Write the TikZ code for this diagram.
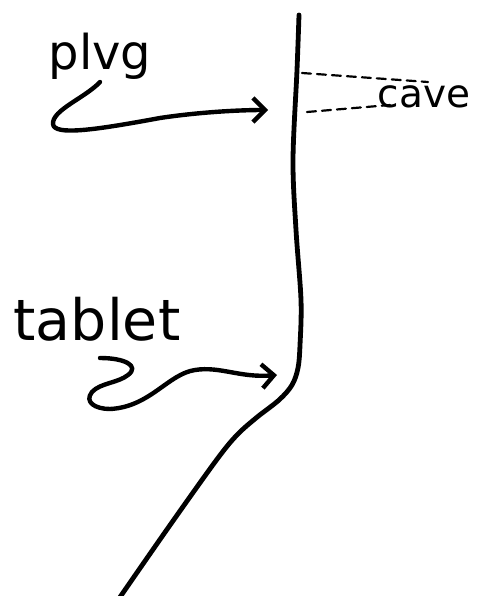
\documentclass[tikz,border=0pt]{standalone}
\usepackage{fontspec}
\setmainfont{DejaVu Sans}
\usepackage{tikz}
\usetikzlibrary{arrows.meta,positioning}

\begin{document}
\begin{tikzpicture}[x=1pt,y=-1pt,line cap=round,line join=round,
    word/.style={anchor=base,inner sep=0pt},
    wall/.style={line width=4.8pt},
    pointer/.style={line width=4.4pt,-{Straight Barb[length=12pt,width=24pt]}},
    gap/.style={line width=2.2pt,dash pattern=on 9pt off 6pt}]
        \useasboundingbox (0,0) rectangle (491,596);
        % labels
        \node[word,font=\fontsize{48}{54}\selectfont] (plvg) at (100,70) {plvg};
        \node[word,font=\fontsize{57}{63}\selectfont] (tablet) at (97,340) {tablet};
        \node[word,font=\fontsize{39}{45}\selectfont] (cave) at (424,108) {cave};
        % the wall
        \draw[wall] plot[smooth,tension=0.55] coordinates {(299,15) (297,70) (293,160) (296,230) (301,300) (300,345) (298,368) (292,385) (279,400) (256,418) (236,436) (215,462) (168,528) (118,600)};
        \coordinate (cavetop) at (302,73);
        \coordinate (cavebot) at (307,112);
        \coordinate (roofend) at (428,82);
        \coordinate (floorend) at (390,105);
        \draw[gap] (cavetop) -- (roofend);
        \draw[gap] (cavebot) -- (floorend);
        % arrows to the wall
        \coordinate (plvgtail) at (100,82);
        \coordinate (plvghead) at (268,110);
        \coordinate (tablettail) at (100,358);
        \coordinate (tablethead) at (277,375);
        \draw[pointer] (plvgtail) .. controls (85,98) and (52,110) .. (53,124) .. controls (54,136) and (95,130) .. (160,118) .. controls (200,112) and (240,110) .. (plvghead);
        \draw[pointer] (tablettail) .. controls (125,358) and (140,366) .. (128,375) .. controls (118,383) and (100,383) .. (92,392) .. controls (84,402) and (95,409) .. (110,409) .. controls (150,407) and (168,374) .. (195,370) .. controls (220,366) and (240,378) .. (tablethead);
      \end{tikzpicture}
\end{document}
